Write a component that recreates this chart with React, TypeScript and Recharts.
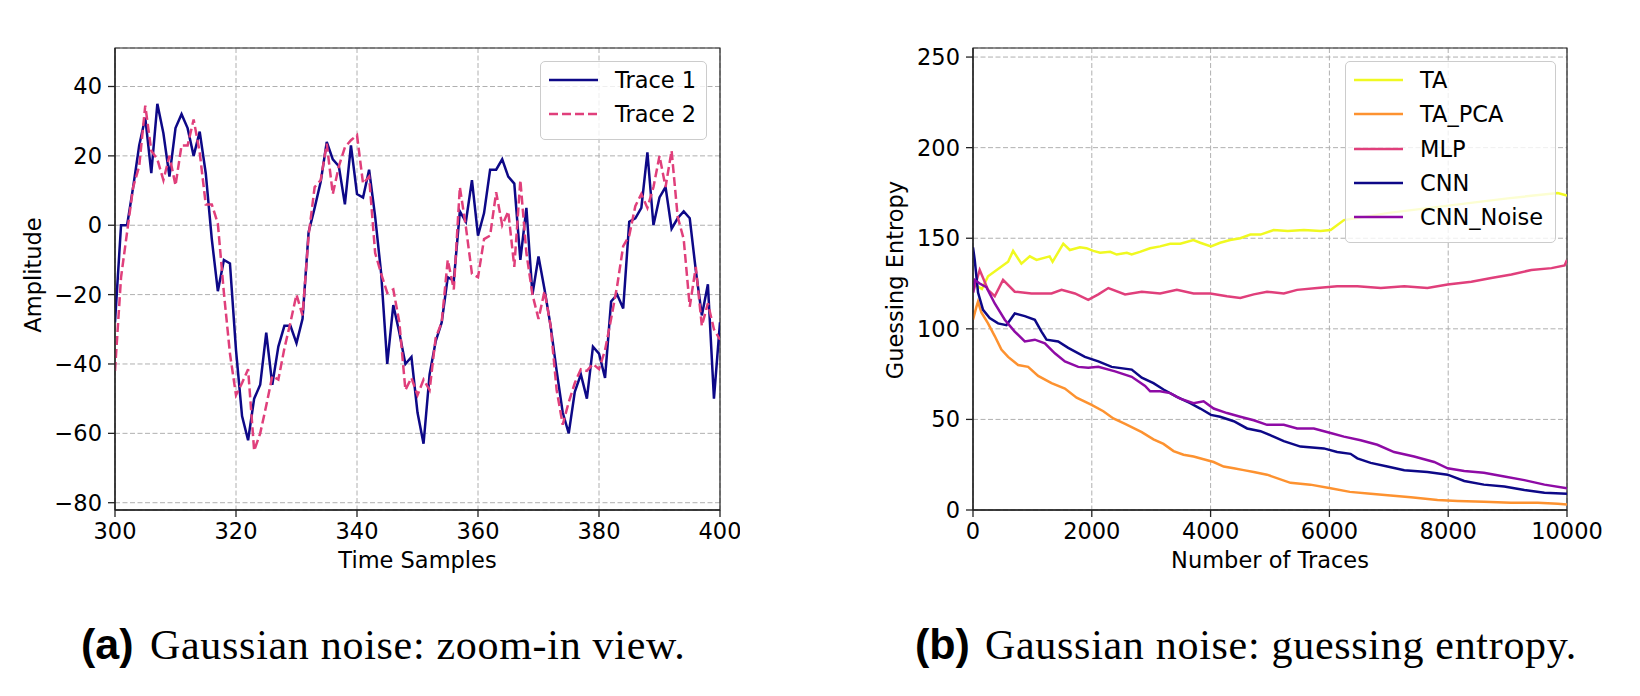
import { LineChart, Line, XAxis, YAxis, CartesianGrid, ReferenceArea, Legend, Label } from 'recharts';

// (a) zoom-in view, samples 300..400
const SAMPLE_START = 300;
const trace1 = [
  -28, 0, 0, 11, 23, 31, 15, 35, 26.5, 14, 28, 32, 28, 20, 27, 15, -4, -19, -10, -11,
  -36, -55, -62, -50, -46, -31, -46, -35, -29, -29, -34, -27, -2, 5, 12.5, 24, 19, 17, 6, 23,
  9, 8, 16, 2.5, -14, -40, -23, -31, -40, -38, -54, -63, -43, -33.5, -28, -15, -16, 4, 1, 13,
  -3, 3.5, 16, 16, 19, 14, 12, -10, 5, -20, -9, -18.5, -29, -42, -54, -60, -48, -43, -50, -35,
  -37, -44, -22, -20, -24, 1, 2, 5, 21, 0, 8, 11, -1, 2, 4, 2, -13, -26, -17, -50,
  -28,
];
const trace2 = [
  -42, -15, -2, 11, 17, 34.5, 21.5, 19, 13, 20, 11.5, 23, 23, 30.5, 21, 6, 6, 0.5, -19.5, -37,
  -49, -45.5, -41.5, -65, -60, -52, -43.5, -44.5, -35.5, -28, -20, -26, -3, 11, 13, 23.5, 9, 17, 22.5, 24.5,
  26, 12, 14, -8, -14, -19.5, -18.5, -28, -47.5, -44, -49, -44.5, -47.5, -32.5, -28, -10, -18.5, 11, -0.5, -14,
  -15, -4, -3, 9.5, 0, 4, -12, 13, -8, -20, -27, -19, -29, -47.5, -57.5, -51, -45.5, -41.5, -42, -40,
  -41.5, -36, -27, -17.5, -6, -3, 5.5, 9, 5, 11, 20, 11, 21.5, 2.5, -4, -23.5, -12, -29, -22.5, -30,
  -33,
];
const timeTicks = [300, 320, 340, 360, 380, 400];
const ampTicks = [-80, -60, -40, -20, 0, 20, 40];

// (b) guessing entropy, [number of traces, GE]
const TA: [number, number][] = [
  [0, 125], [150, 122], [253, 129], [422, 133], [591, 137], [675, 143], [815, 136], [956, 140], [1070, 138],
  [1290, 140], [1340, 137], [1520, 147], [1630, 143.5], [1800, 145], [1910, 144.5], [2025, 143], [2140, 142],
  [2310, 142.5], [2420, 141], [2590, 142], [2670, 141], [2810, 142.5], [2980, 144.5], [3150, 145.5], [3320, 147],
  [3490, 147], [3710, 149], [3826, 147.5], [4006, 145.5], [4160, 147.5], [4330, 149], [4500, 150], [4670, 152],
  [4840, 152], [5060, 154.5], [5300, 154], [5570, 154.5], [5850, 154], [6020, 154.5], [6245, 160], [7000, 164],
  [8000, 168], [9000, 172], [9845, 175], [10000, 173.5],
];
const TA_PCA: [number, number][] = [
  [0, 105], [56, 112], [84, 115], [141, 109], [253, 103], [366, 96], [478, 88.5], [591, 84.5], [760, 80],
  [928, 79], [1097, 74], [1322, 70], [1547, 67], [1744, 62], [1997, 58], [2194, 54.5], [2363, 50.5], [2560, 47.5],
  [2841, 43], [3038, 39], [3207, 36.5], [3376, 32.5], [3544, 30.5], [3713, 29.5], [3882, 28], [4051, 26.5],
  [4220, 24], [4390, 23], [4557, 22], [4726, 21], [4950, 19.5], [5345, 15], [5680, 14], [6020, 12], [6345, 10],
  [6695, 9], [7030, 8], [7370, 7], [7820, 5.5], [8160, 5], [8600, 4.5], [9057, 4], [9507, 4], [9845, 3.5], [10000, 3],
];
const MLP: [number, number][] = [
  [0, 120], [113, 132.5], [253, 121.5], [366, 118], [506, 127], [703, 120.5], [984, 119.5], [1322, 119.5],
  [1491, 121.5], [1716, 119.5], [1940, 116], [2110, 119], [2279, 122.5], [2560, 119], [2841, 120.5], [3150, 119.5],
  [3432, 121.5], [3713, 119.5], [3995, 119.5], [4276, 118], [4500, 117], [4726, 119], [4950, 120.5], [5232, 119.5],
  [5457, 121.5], [5795, 122.5], [6130, 123.5], [6470, 123.5], [6866, 122.5], [7260, 123.5], [7650, 122.5],
  [7990, 124.5], [8390, 126], [8725, 128], [9065, 130], [9400, 132.5], [9740, 133.5], [9960, 135], [10000, 138],
];
const CNN: [number, number][] = [
  [0, 145], [29, 138], [85, 120], [169, 110.5], [281, 106], [422, 103], [563, 102], [703, 108.5], [872, 107],
  [1041, 105], [1153, 98.5], [1238, 94], [1434, 93], [1603, 89.5], [1884, 84.5], [2110, 82], [2335, 79],
  [2672, 77.5], [2841, 73], [3038, 70], [3207, 66.5], [3432, 62.5], [3657, 59], [3826, 56], [4006, 52.5],
  [4160, 51.5], [4390, 49], [4615, 45], [4840, 43.5], [5060, 40.5], [5232, 38], [5513, 35], [5907, 34], [6130, 32],
  [6356, 31], [6470, 28.5], [6695, 26], [6976, 24], [7260, 22], [7650, 21], [7990, 19.5], [8270, 16], [8600, 14],
  [8945, 13], [9282, 11], [9620, 9.5], [10000, 9],
];
const CNN_NOISE: [number, number][] = [
  [0, 120], [29, 127], [113, 125], [225, 123], [366, 114], [535, 105], [703, 98.5], [872, 93], [1041, 94],
  [1210, 92], [1378, 86.5], [1547, 82], [1772, 79], [1940, 78.5], [2110, 79], [2391, 76.5], [2672, 73.5],
  [2897, 68.5], [2982, 65.5], [3150, 65.5], [3319, 64.5], [3488, 61.5], [3713, 59], [3882, 60], [4051, 56],
  [4276, 53.5], [4500, 51.5], [4726, 49.5], [4950, 47], [5232, 47], [5457, 45], [5738, 45], [6020, 42.5],
  [6245, 40.5], [6526, 38.5], [6807, 36], [7089, 32], [7426, 29.5], [7764, 26.5], [7990, 23], [8270, 21.5],
  [8600, 20.5], [8945, 18.5], [9282, 16.5], [9620, 14], [10000, 12],
];
const traceTicks = [0, 2000, 4000, 6000, 8000, 10000];
const geTicks = [0, 50, 100, 150, 200, 250];

const FONT = 'DejaVu Sans';
const FS = 22.5;
const GRID = '#b0b0b0';

const SERIES = [
  { name: 'TA', data: TA, color: '#f0f921' },
  { name: 'TA_PCA', data: TA_PCA, color: '#fd9230' },
  { name: 'MLP', data: MLP, color: '#e03f7b' },
  { name: 'CNN', data: CNN, color: '#0d0887' },
  { name: 'CNN_Noise', data: CNN_NOISE, color: '#8e0ba5' },
];

const fmt = (v: number) => (v < 0 ? `\u2212${Math.abs(v)}` : `${v}`);
const toRows = (pts: [number, number][]) => pts.map(([n, v]) => ({ n, v }));

const zoomData = trace1.map((v, i) => ({ t: SAMPLE_START + i, trace1: v, trace2: trace2[i] }));

function AxisTitle({ x, y, text, vertical }: { x: number; y: number; text: string; vertical?: boolean }) {
  return (
    <text
      x={x}
      y={y}
      textAnchor="middle"
      fontFamily={FONT}
      fontSize={FS}
      fill="#000"
      transform={vertical ? `rotate(-90 ${x} ${y})` : undefined}
    >
      {text}
    </text>
  );
}

type Item = { label: string; color: string; dashed?: boolean };

function LegendBox({ items, width }: { items: Item[]; width: number }) {
  return (
    <div
      style={{
        width,
        height: items.length * 34.3 + 10,
        background: 'rgba(255,255,255,0.8)',
        border: '1px solid #cccccc',
        borderRadius: 5,
        boxSizing: 'border-box',
        position: 'relative',
        fontFamily: FONT,
        fontSize: FS,
      }}
    >
      {items.map((it, i) => (
        <div key={it.label} style={{ position: 'absolute', left: 0, top: 18 + i * 34.3 - 14, height: 28, display: 'flex', alignItems: 'center' }}>
          <svg width={70} height={28} style={{ display: 'block' }}>
            <line x1={8} x2={57} y1={14} y2={14} stroke={it.color} strokeWidth={2.5} strokeDasharray={it.dashed ? '9 4' : undefined} />
          </svg>
          <span style={{ marginLeft: 4, color: '#000', whiteSpace: 'nowrap' }}>{it.label}</span>
        </div>
      ))}
    </div>
  );
}

const tickStyle = { fontSize: FS, fill: '#000', fontFamily: FONT };

function ZoomChart() {
  return (
    <LineChart width={740} height={600} data={zoomData} margin={{ top: 48, right: 20, bottom: 30, left: 55 }}>
      <CartesianGrid stroke={GRID} strokeDasharray="5 2.5" />
      <XAxis
        dataKey="t"
        type="number"
        domain={[300, 400]}
        ticks={timeTicks}
        height={60}
        tick={tickStyle}
        tickSize={7}
        tickMargin={6}
        stroke="#222"
        strokeWidth={1.3}
        allowDataOverflow
      >
        <Label content={() => <AxisTitle x={417.5} y={568} text="Time Samples" />} />
      </XAxis>
      <YAxis
        type="number"
        domain={[-82.1, 51.1]}
        ticks={ampTicks}
        width={60}
        tick={tickStyle}
        tickFormatter={fmt}
        tickSize={7}
        tickMargin={6}
        stroke="#222"
        strokeWidth={1.3}
        allowDataOverflow
      >
        <Label content={() => <AxisTitle x={41} y={275} text="Amplitude" vertical />} />
      </YAxis>
      <ReferenceArea x1={300} x2={400} y1={-82.1} y2={51.1} fill="none" stroke="#222" strokeWidth={1.2} />
      <Line dataKey="trace1" name="Trace 1" stroke="#0d0887" strokeWidth={2.5} dot={false} type="linear" isAnimationActive={false} />
      <Line dataKey="trace2" name="Trace 2" stroke="#e03f7b" strokeWidth={2.5} strokeDasharray="9 4" dot={false} type="linear" isAnimationActive={false} />
      <Legend
        layout="vertical"
        align="center"
        verticalAlign="middle"
        wrapperStyle={{ left: 540, top: 61, width: 167 }}
        content={() => (
          <LegendBox
            width={167}
            items={[
              { label: 'Trace 1', color: '#0d0887' },
              { label: 'Trace 2', color: '#e03f7b', dashed: true },
            ]}
          />
        )}
      />
    </LineChart>
  );
}

function EntropyChart() {
  return (
    <LineChart width={800} height={600} margin={{ top: 48, right: 73, bottom: 30, left: 73 }}>
      <CartesianGrid stroke={GRID} strokeDasharray="5 2.5" />
      <XAxis
        dataKey="n"
        type="number"
        domain={[0, 10000]}
        ticks={traceTicks}
        height={60}
        tick={tickStyle}
        tickSize={7}
        tickMargin={6}
        stroke="#222"
        strokeWidth={1.3}
        allowDataOverflow
      >
        <Label content={() => <AxisTitle x={430} y={568} text="Number of Traces" />} />
      </XAxis>
      <YAxis
        type="number"
        domain={[0, 255]}
        ticks={geTicks}
        width={60}
        tick={tickStyle}
        tickSize={7}
        tickMargin={6}
        stroke="#222"
        strokeWidth={1.3}
        allowDataOverflow
      >
        <Label content={() => <AxisTitle x={63} y={280} text="Guessing Entropy" vertical />} />
      </YAxis>
      <ReferenceArea x1={0} x2={10000} y1={0} y2={255} fill="none" stroke="#222" strokeWidth={1.2} />
      {SERIES.map((s) => (
        <Line
          key={s.name}
          data={toRows(s.data)}
          dataKey="v"
          name={s.name}
          stroke={s.color}
          strokeWidth={2.5}
          dot={false}
          type="linear"
          isAnimationActive={false}
        />
      ))}
      <Legend
        layout="vertical"
        align="center"
        verticalAlign="middle"
        wrapperStyle={{ left: 505, top: 61, width: 211 }}
        content={() => <LegendBox width={211} items={SERIES.map((s) => ({ label: s.name, color: s.color }))} />}
      />
    </LineChart>
  );
}

export default function App() {
  return (
    <div style={{ position: 'absolute', left: 0, top: 0, width: 1640, height: 696, background: '#fff', fontFamily: FONT, overflow: 'hidden' }}>
      <div style={{ position: 'absolute', left: 0, top: 0 }}>
        <ZoomChart />
      </div>
      <div style={{ position: 'absolute', left: 840, top: 0 }}>
        <EntropyChart />
      </div>
      <svg width={1640} height={696} style={{ position: 'absolute', left: 0, top: 0, pointerEvents: 'none' }}>
        <text y={659} fill="#000">
          <tspan x={81} fontFamily="Liberation Sans" fontWeight="bold" fontSize={43}>(a)</tspan>
          <tspan x={150} fontFamily="Liberation Serif" fontSize={42} letterSpacing={0.7}>Gaussian noise: zoom-in view.</tspan>
        </text>
        <text y={659} fill="#000">
          <tspan x={915} fontFamily="Liberation Sans" fontWeight="bold" fontSize={43}>(b)</tspan>
          <tspan x={985} fontFamily="Liberation Serif" fontSize={42} letterSpacing={0.7}>Gaussian noise: guessing entropy.</tspan>
        </text>
      </svg>
    </div>
  );
}
